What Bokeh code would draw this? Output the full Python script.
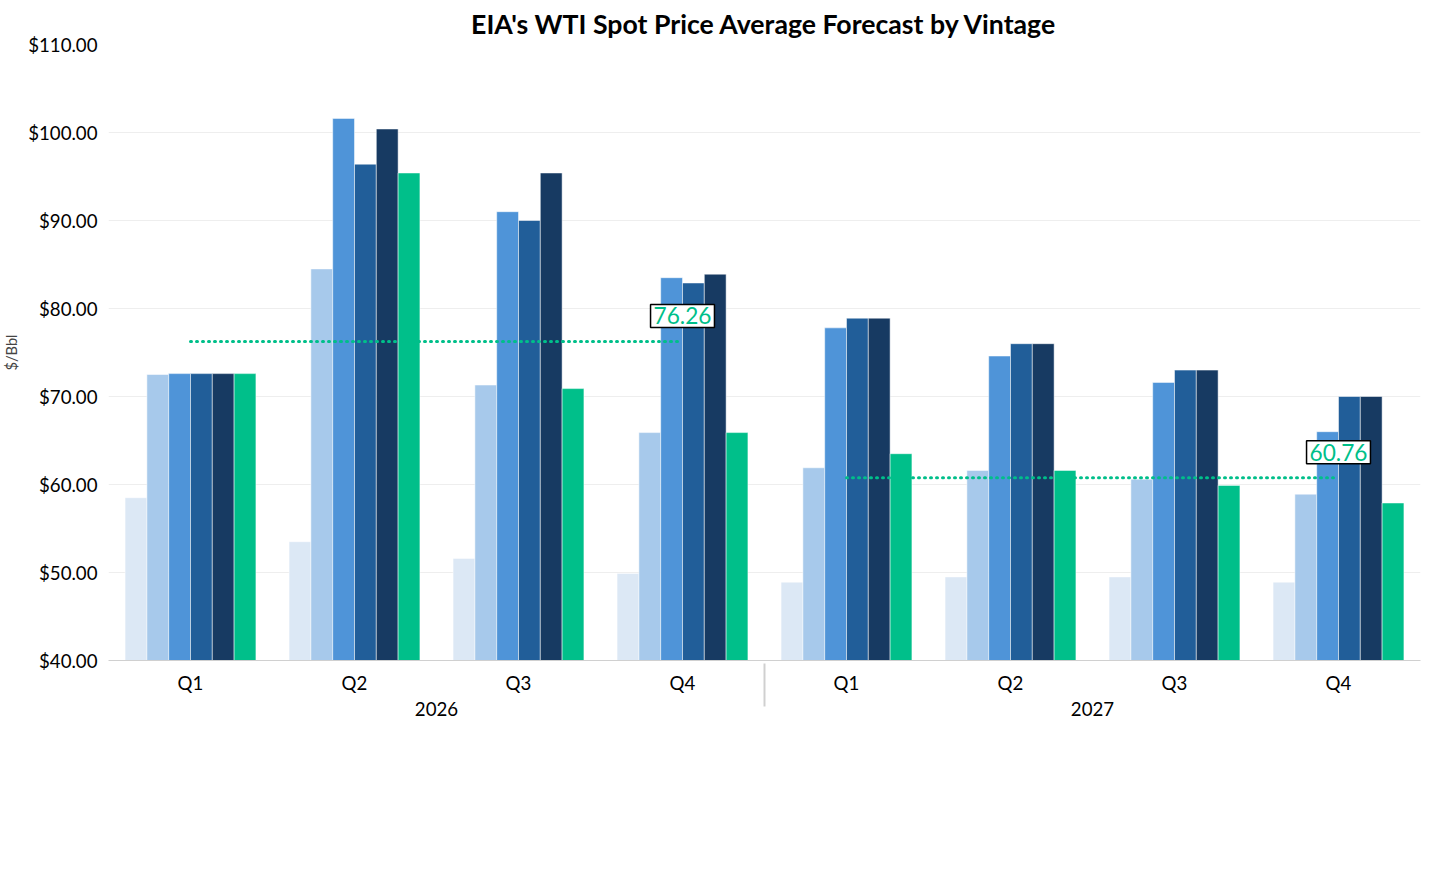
from bokeh.plotting import figure
from bokeh.models import FactorRange, Range1d, Legend, LegendItem, NumeralTickFormatter, Title, ColumnDataSource
from bokeh.transform import dodge
from bokeh.core.properties import value
from bokeh.embed import file_html
from bokeh.resources import INLINE

years = ["2026", "2027"]
quarters = ["Q1", "Q2", "Q3", "Q4"]
vintages = ["February 2026", "March 2026", "April 2026", "May 2026", "June 2026", "July 2026"]
feb = [58.5, 53.5, 51.6, 49.9, 48.9, 49.5, 49.5, 48.9]
mar = [72.5, 84.5, 71.3, 65.9, 61.9, 61.6, 60.6, 58.9]
apr = [72.6, 101.6, 91.0, 83.5, 77.8, 74.6, 71.6, 66.0]
may = [72.6, 96.4, 90.0, 82.9, 78.9, 76.0, 73.0, 70.0]
jun = [72.6, 100.4, 95.4, 83.9, 78.9, 76.0, 73.0, 70.0]
jul = [72.6, 95.4, 70.9, 65.9, 63.5, 61.6, 59.9, 57.9]
avg_2026 = 76.26
avg_2027 = 60.76
colors = ["#DCE8F5", "#A7C9EB", "#4F94D8", "#215E99", "#173A62", "#00BF8A"]

FONT = "Lato"
x = [(y, q) for y in years for q in quarters]
src = ColumnDataSource(dict(x=x, feb=feb, mar=mar, apr=apr, may=may, jun=jun, jul=jul))

p = figure(frame_width=1312, frame_height=616, output_backend="svg", toolbar_location=None,
           x_range=FactorRange(*x, factor_padding=0, group_padding=0, range_padding=0),
           y_range=Range1d(40, 110))
p.title.text = "EIA's WTI Spot Price Average Forecast by Vintage"
p.title.align = "center"
p.title.text_font = FONT
p.title.text_font_size = "20pt"
p.title.text_font_style = "bold"
p.title.text_color = "black"
p.outline_line_color = None
p.xgrid.grid_line_color = None
p.ygrid.grid_line_color = "#EEEEEE"
p.yaxis.formatter = NumeralTickFormatter(format="$0.00")
p.yaxis.axis_line_color = None
p.yaxis.major_tick_line_color = None
p.yaxis.minor_tick_line_color = None
p.yaxis.axis_label = "$/Bbl"
p.yaxis.axis_label_text_font = FONT
p.yaxis.axis_label_text_font_style = "normal"
p.yaxis.axis_label_text_font_size = "11pt"
p.yaxis.major_label_text_font = FONT
p.yaxis.major_label_text_font_size = "14pt"
p.yaxis.major_label_text_color = "black"
p.xaxis.major_label_text_font = FONT
p.xaxis.major_label_text_font_size = "14pt"
p.xaxis.major_label_text_color = "black"
p.xaxis.group_text_font = FONT
p.xaxis.group_text_font_size = "14pt"
p.xaxis.group_text_color = "black"
p.xaxis.group_text_font_style = "normal"
p.xaxis.axis_line_color = "#D0D0D0"
p.xaxis.major_tick_line_color = None
p.xaxis.separator_line_color = "#D0D0D0"
p.min_border_right = 10
p.min_border_top = 10

w = 0.133
items = []
for i, (col, name) in enumerate(zip(["feb", "mar", "apr", "may", "jun", "jul"], vintages)):
    r = p.vbar(x=dodge("x", (i - 2.5) * w, range=p.x_range), top=col, bottom=40, width=w,
               source=src, fill_color=colors[i], line_color="white", line_width=0.5)
    items.append(LegendItem(label=name, renderers=[r]))

l1 = p.line(x=[("2026", "Q1"), ("2026", "Q4")], y=[avg_2026, avg_2026], line_color="#00BF8A",
            line_width=3, line_dash="1 5", line_cap="round")
l2 = p.line(x=[("2027", "Q1"), ("2027", "Q4")], y=[avg_2027, avg_2027], line_color="#00BF8A",
            line_width=3, line_dash="1 5", line_cap="round")
items.append(LegendItem(label="July STEO 2026 Avg", renderers=[l1]))
items.append(LegendItem(label="July STEO 2027 Avg", renderers=[l2]))

p.text(x=[("2026", "Q4"), ("2027", "Q4")], y=[avg_2026, avg_2027],
       text=[f"{avg_2026:.2f}", f"{avg_2027:.2f}"], y_offset=-14,
       text_align="center", text_baseline="bottom", text_color="#00BF8A",
       text_font=value(FONT), text_font_size="17pt",
       background_fill_color="white", border_line_color="black", border_line_width=1.5,
       padding=3)

for row in (items[:4], items[4:]):
    leg = Legend(items=row, location="center", orientation="horizontal",
                 label_text_font=FONT, label_text_font_size="14pt", glyph_width=48,
                 glyph_height=14, label_width=200, spacing=20, border_line_color=None,
                 margin=0, padding=2, label_height=20)
    p.add_layout(leg, "below")
src_t = Title(text="Source: AEGIS, EIA STEO", text_font=FONT, text_font_size="11pt",
              text_font_style="italic", text_color="#B0B0B0", align="left")
p.add_layout(src_t, "below")

open("out.html", "w").write(file_html(p, INLINE))
